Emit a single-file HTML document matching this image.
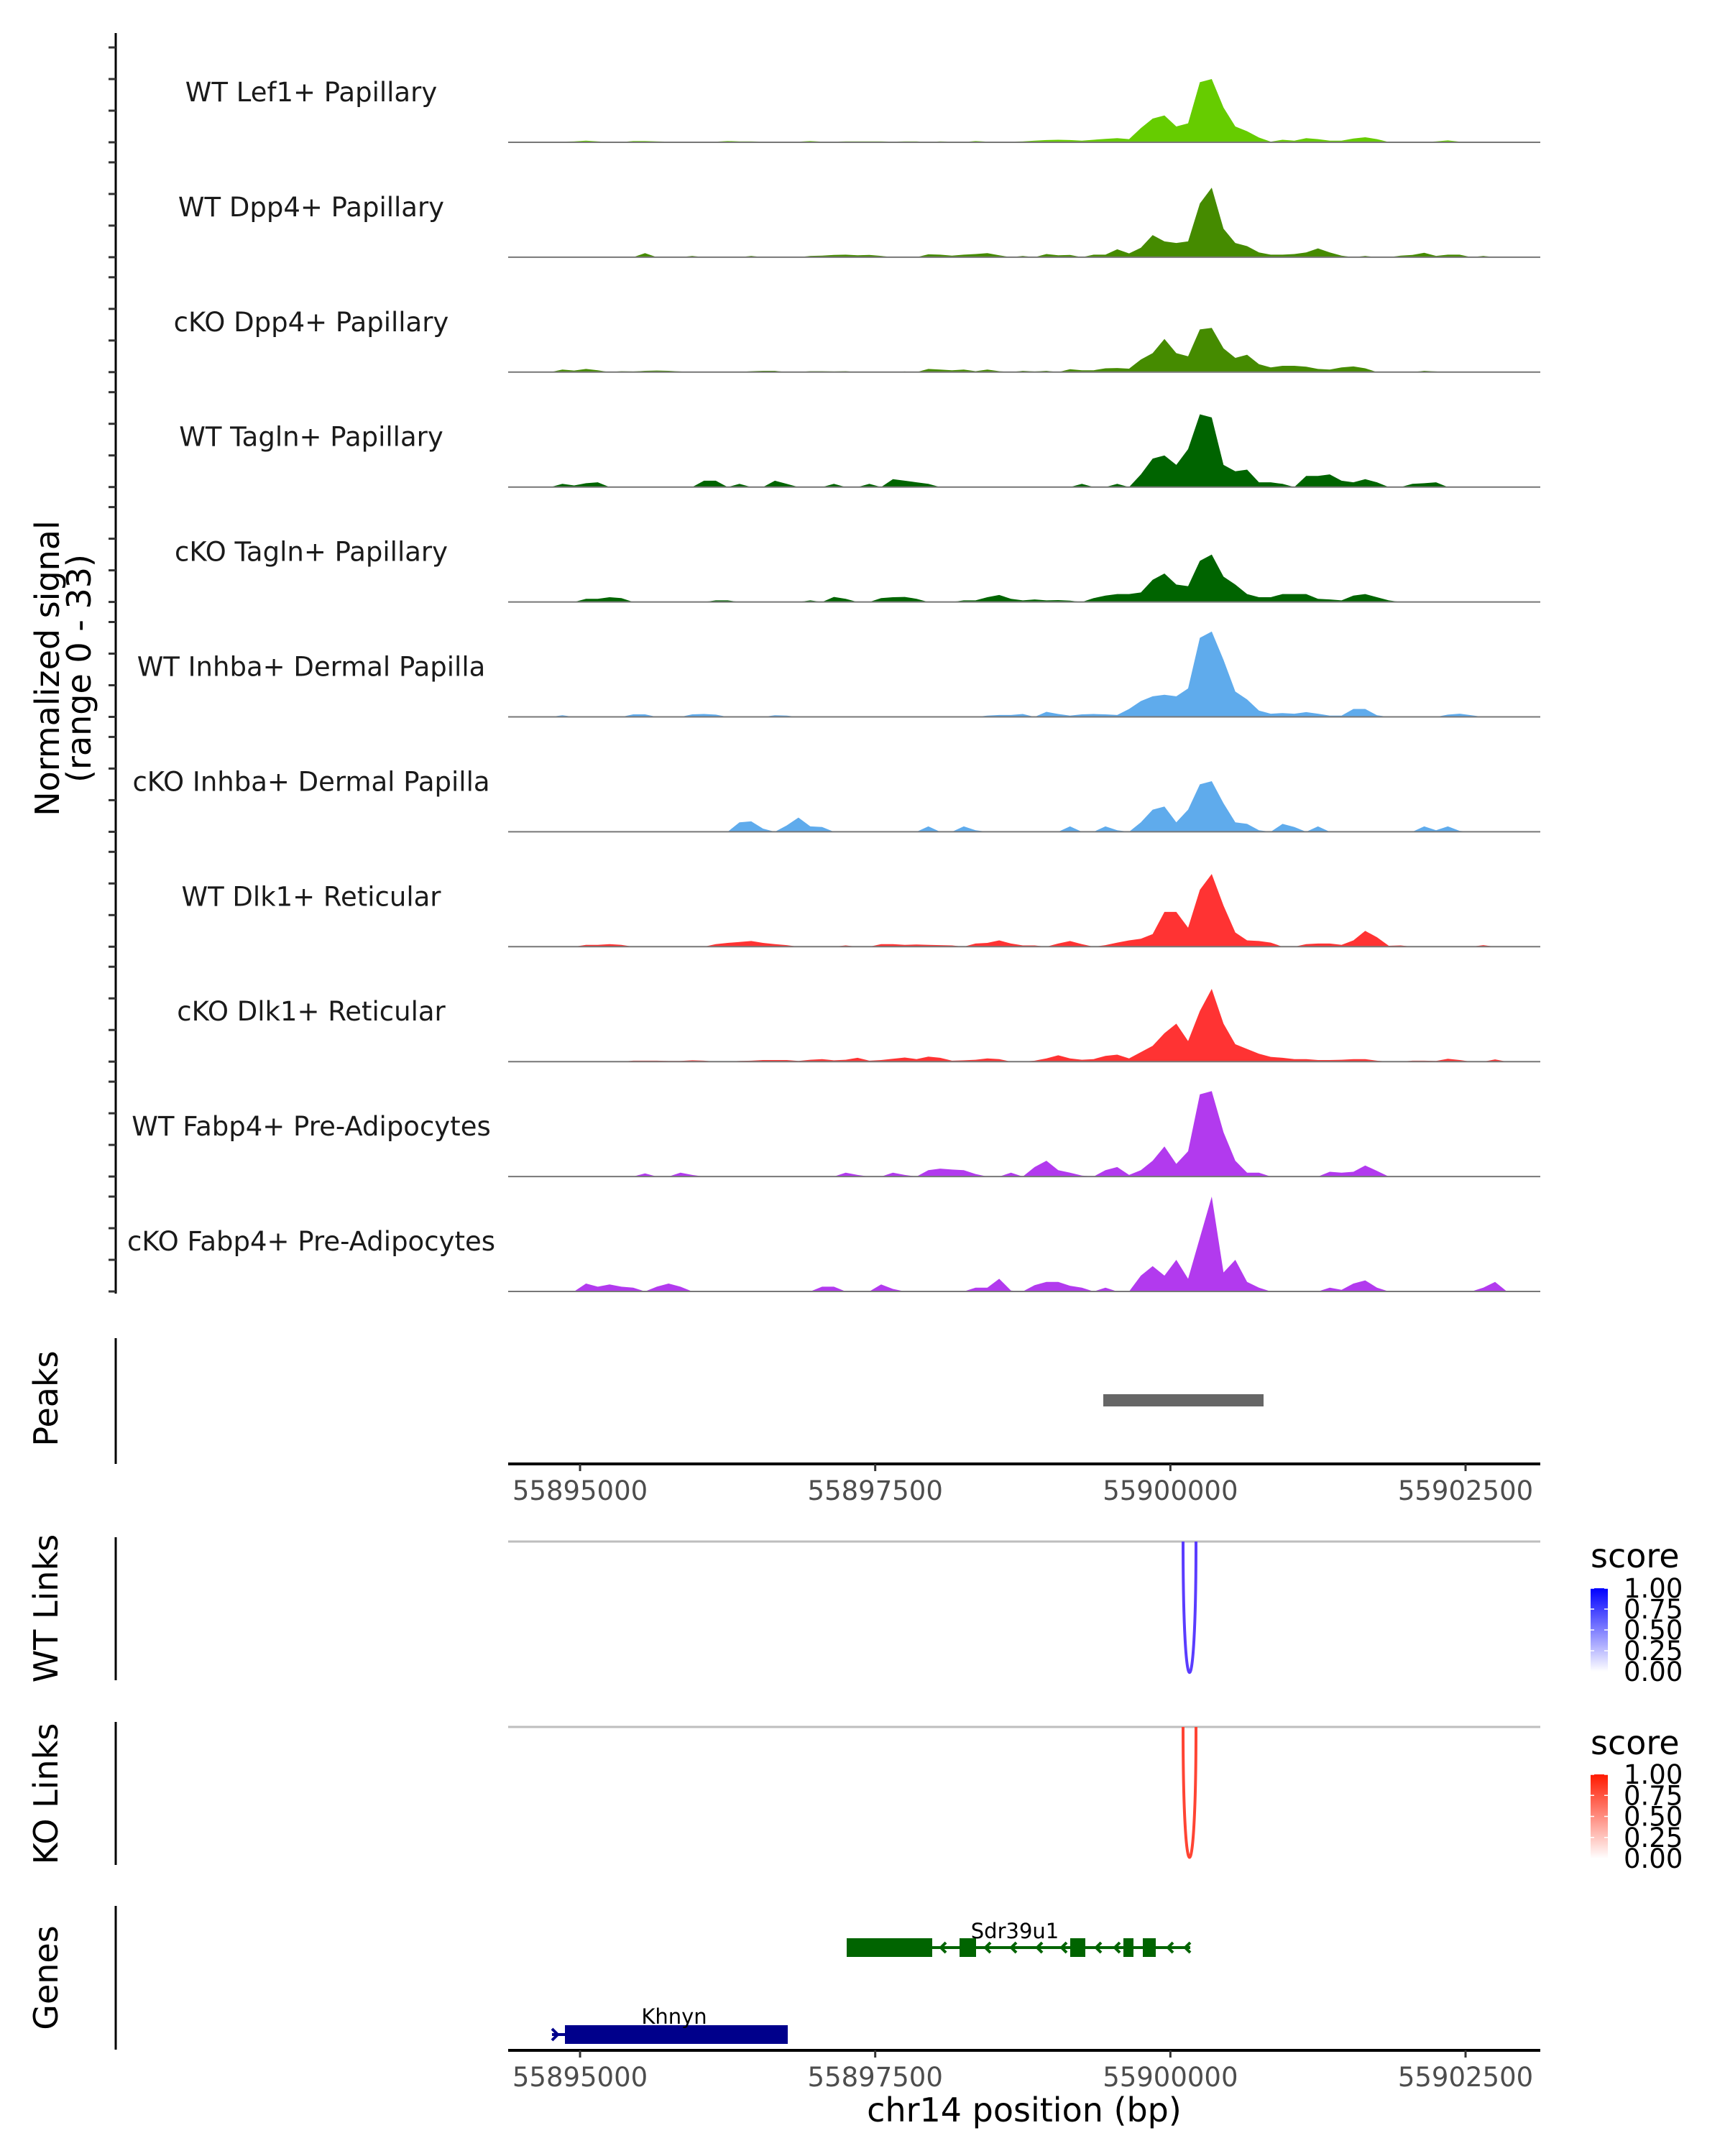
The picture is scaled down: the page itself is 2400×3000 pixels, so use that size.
<!DOCTYPE html>
<html>
<head>
<meta charset="utf-8">
<style>
  html,body{margin:0;padding:0;background:#fff;}
  svg{display:block;font-family:"DejaVu Sans","Liberation Sans",sans-serif;}
</style>
</head>
<body>
<svg id="chart" width="2400" height="3000" viewBox="0 0 2400 3000" xmlns="http://www.w3.org/2000/svg">
  <rect width="2400" height="3000" fill="#fff"/>
  <g id="tracks"></g>
  <g id="yaxis">
    <line x1="161" y1="46" x2="161" y2="1800" stroke="#000" stroke-width="3"/>
  </g>
  <text transform="translate(82,930) rotate(-90)" text-anchor="middle" font-size="46" fill="#000">Normalized signal</text>
  <text transform="translate(126,930) rotate(-90)" text-anchor="middle" font-size="46" fill="#000">(range 0 - 33)</text>

  <!-- Peaks panel -->
  <g>
    <line x1="161" y1="1862" x2="161" y2="2037" stroke="#000" stroke-width="3"/>
    <text transform="translate(80,1946) rotate(-90)" text-anchor="middle" font-size="46">Peaks</text>
    <rect x="1535" y="1940" width="223" height="17" fill="#666"/>
    <g id="axis1"></g>
  </g>

  <!-- WT links -->
  <g>
    <line x1="161" y1="2139" x2="161" y2="2338" stroke="#000" stroke-width="3"/>
    <text transform="translate(80,2238) rotate(-90)" text-anchor="middle" font-size="46">WT Links</text>
    <line x1="707" y1="2145" x2="2143" y2="2145" stroke="#bebebe" stroke-width="3"/>
    <path d="M1646 2145 C1646 2388 1664 2388 1664 2145" fill="none" stroke="#5a3cff" stroke-width="4"/>
    <text x="2213" y="2181" font-size="46">score</text>
    <defs>
      <linearGradient id="gBlue" x1="0" y1="0" x2="0" y2="1"><stop offset="0" stop-color="#0000ff"/><stop offset="1" stop-color="#ffffff"/></linearGradient>
      <linearGradient id="gRed" x1="0" y1="0" x2="0" y2="1"><stop offset="0" stop-color="#ff1a00"/><stop offset="1" stop-color="#ffffff"/></linearGradient>
    </defs>
    <rect x="2213" y="2210" width="24" height="116" fill="url(#gBlue)"/>
    <g id="legWT"></g>
  </g>

  <!-- KO links -->
  <g>
    <line x1="161" y1="2396" x2="161" y2="2595" stroke="#000" stroke-width="3"/>
    <text transform="translate(80,2496) rotate(-90)" text-anchor="middle" font-size="46">KO Links</text>
    <line x1="707" y1="2403" x2="2143" y2="2403" stroke="#bebebe" stroke-width="3"/>
    <path d="M1646 2403 C1646 2645 1664 2645 1664 2403" fill="none" stroke="#ff4433" stroke-width="4"/>
    <text x="2213" y="2441" font-size="46">score</text>
    <rect x="2213" y="2469" width="24" height="117" fill="url(#gRed)"/>
    <g id="legKO"></g>
  </g>

  <!-- Genes -->
  <g>
    <line x1="161" y1="2652" x2="161" y2="2852" stroke="#000" stroke-width="3"/>
    <text transform="translate(80,2752) rotate(-90)" text-anchor="middle" font-size="46">Genes</text>
    <g fill="#006400" stroke="#006400">
      <line x1="1178" y1="2710" x2="1656" y2="2710" stroke-width="4"/>
      <rect x="1178" y="2697" width="119" height="26" stroke="none"/>
      <rect x="1335" y="2697" width="23" height="26" stroke="none"/>
      <rect x="1489" y="2697" width="21" height="26" stroke="none"/>
      <rect x="1563" y="2697" width="14" height="26" stroke="none"/>
      <rect x="1590" y="2697" width="18" height="26" stroke="none"/>
      <g id="chev" fill="none" stroke-width="4"></g>
      <text x="1412" y="2697" font-size="29" text-anchor="middle" fill="#000" stroke="none">Sdr39u1</text>
    </g>
    <g fill="#00008b" stroke="#00008b">
      <line x1="768" y1="2831" x2="1096" y2="2831" stroke-width="4"/>
      <rect x="786" y="2818" width="310" height="26" stroke="none"/>
      <path d="M768 2823 L776 2831 L768 2839" fill="none" stroke-width="4"/>
      <text x="938" y="2816" font-size="29" text-anchor="middle" fill="#000" stroke="none">Khnyn</text>
    </g>
    <g id="axis2"></g>
    <text x="1425" y="2952" font-size="46" text-anchor="middle">chr14 position (bp)</text>
  </g>
</svg>
<script>
const binStart = 55894500;
const binSize = 100;
const xTicks = [55895000, 55897500, 55900000, 55902500];
const legendTicks = ["1.00","0.75","0.50","0.25","0.00"];
const trackNames = ["WT Lef1+ Papillary","WT Dpp4+ Papillary","cKO Dpp4+ Papillary","WT Tagln+ Papillary","cKO Tagln+ Papillary","WT Inhba+ Dermal Papilla","cKO Inhba+ Dermal Papilla","WT Dlk1+ Reticular","cKO Dlk1+ Reticular","WT Fabp4+ Pre-Adipocytes","cKO Fabp4+ Pre-Adipocytes"];
const trackColors = ["#66cc00","#458b00","#458b00","#006400","#006400","#5fabec","#5fabec","#ff3333","#ff3333","#b23aee","#b23aee"];
const sigLef1WT = [0,0,0,0.2,0.3,0.5,0.3,0.1,0.1,0.4, 0.4,0.3,0.2,0.1,0.1,0.2,0.2,0.4,0.3,0.3, 0.2,0.1,0.1,0.2,0.4,0.2,0.2,0.3,0.3,0.3, 0.3,0.2,0.3,0.3,0.1,0.3,0.2,0.1,0.4,0.2, 0.1,0.2,0.3,0.5,0.7,0.8,0.7,0.5,0.8,1.1, 1.3,1.0,4.5,7.5,8.5,5,6,19,20,11, 5,3.5,1.5,0.2,0.8,0.5,1.3,1.0,0.5,0.5, 1.2,1.6,1.0,0.1,0.1,0.1,0.1,0.3,0.6,0.2, 0,0,0,0];
const sigDpp4WT = [0,0,0,0,0,0,0,0,0,0, 1.3,0,0,0,0.4,0,0,0,0,0.4, 0,0,0,0,0.4,0.5,0.7,0.8,0.6,0.7, 0.4,0,0,0,0.9,0.8,0.5,0.8,1.0,1.3, 0.6,0,0.4,0,1.0,0.6,0.7,0,0.8,0.8, 2.5,1.2,3,7,5,4.5,5,17,22,9, 4.5,3.5,1.5,0.8,0.8,1.0,1.5,2.8,1.5,0.5, 0,0.4,0,0,0.5,0.7,1.4,0.4,0.8,0.8, 0,0.4,0,0];
const sigDpp4KO = [0,0,0,0.8,0.5,1.0,0.6,0,0.3,0.2, 0.4,0.5,0.4,0.2,0,0,0,0,0,0.3, 0.4,0.4,0,0,0.3,0.3,0.2,0.3,0,0, 0,0,0.2,0,1.0,0.8,0.6,0.8,0.3,0.8, 0.3,0,0.4,0.2,0.4,0,0.9,0.6,0.6,1.2, 1.3,1.1,4,6,10.5,6,5,13.5,14,7.5, 4.5,5.5,2.5,1.5,2,2,1.7,1.0,0.8,1.5, 1.8,1.2,0,0,0,0,0.4,0.2,0,0, 0,0,0,0];
const sigTaglnWT = [0,0,0,1,0.5,1.2,1.5,0,0,0, 0,0,0,0,0,2,2,0,1,0, 0,2,1,0,0,0,1,0,0,1, 0,2.5,2,1.5,1,0,0,0,0,0, 0,0,0,0,0,0,0,1,0,0, 1,0,4,9,10,7,12,23,22,7, 5,5.5,1.5,1.5,1,0,3.5,3.5,4,2, 1.5,2.5,1.5,0,0,1,1.2,1.5,0,0, 0,0,0,0];
const sigTaglnKO = [0,0,0,0,0,1.0,1.0,1.5,1.2,0, 0,0,0,0,0,0,0.5,0.5,0,0, 0,0,0,0,0.5,0,1.6,1.0,0,0, 1.2,1.5,1.6,1.0,0,0,0,0.5,0.5,1.5, 2.2,1,0.5,0.8,0.5,0.6,0.4,0,1.2,2, 2.5,2.5,3,7,9,5.5,5,13,15,8, 5.5,2.5,1.5,1.5,2.5,2.5,2.5,1.0,0.8,0.5, 2,2.5,1.5,0.5,0,0,0,0,0,0, 0,0,0,0];
const sigInhbaWT = [0,0,0,0.5,0,0,0,0,0,0.8, 0.8,0,0,0,0.8,0.9,0.7,0,0,0, 0,0.5,0.4,0,0,0,0,0,0,0, 0,0,0,0,0,0,0,0,0,0.4, 0.6,0.6,0.9,0,1.6,0.9,0.4,0.8,0.9,0.8, 0.6,2.5,5,6.5,7,6.5,9,25,27,18, 8,5.5,2,1,1.2,1.0,1.5,1.0,0.4,0.4, 2.5,2.5,0.5,0,0,0,0,0,0.7,1.0, 0.5,0,0,0];
const sigInhbaKO = [0,0,0,0,0,0,0,0,0,0, 0,0,0,0,0,0,0,0,3,3.3, 1,0,2,4.5,1.7,1.5,0,0,0,0, 0,0,0,0,1.7,0,0,1.7,0.5,0, 0,0,0,0,0,0,1.7,0,0,1.7, 0.5,0,3,7,8,3,7,15,16,9, 3,2.5,0.5,0,2.5,1.5,0,1.7,0,0, 0,0,0,0,0,0,1.7,0.5,1.7,0.3, 0,0,0,0];
const sigDlk1WT = [0,0,0,0,0,0.6,0.6,0.8,0.6,0, 0,0,0,0,0,0,0.8,1.2,1.5,1.8, 1.2,0.8,0.5,0,0,0,0,0.4,0,0, 0.8,0.8,0.6,0.7,0.6,0.5,0.4,0,1.0,1.2, 2,1.0,0.4,0.4,0,1.0,1.8,0.8,0,0.5, 1.3,2,2.5,4,11,11,6,18,23,13, 4.5,2,1.8,1.3,0,0,0.8,1.0,1.0,0.6, 2,5,3,0.3,0.4,0,0,0,0,0, 0,0.5,0,0];
const sigDlk1KO = [0,0,0,0,0,0,0,0,0,0.3, 0.3,0.3,0.2,0.2,0.4,0.3,0,0,0.2,0.3, 0.5,0.5,0.5,0.2,0.6,0.8,0.4,0.6,1.2,0.3, 0.5,0.9,1.3,0.8,1.6,1.2,0.3,0.4,0.6,1.0, 0.8,0,0,0.3,1.0,2.0,1.0,0.6,0.8,1.8, 2.2,1.0,3,5,9,12,6.5,16,23,12, 5.5,4,2.5,1.5,1.2,0.8,0.8,0.5,0.5,0.6, 0.8,0.8,0.3,0,0,0.3,0.3,0.2,0.9,0.5, 0,0,0.7,0];
const sigFabp4WT = [0,0,0,0,0,0,0,0,0,0, 1.0,0,0,1.2,0.5,0,0,0,0,0, 0,0,0,0,0,0,0,1.2,0.5,0, 0,1.2,0.5,0,2,2.5,2.2,2,0.8,0, 0,1.2,0,3,5,2,1.2,0.3,0,2, 3,0.5,2,5,9.5,4,8,26,27,14, 5,1.2,1.2,0,0,0,0,0,1.5,1.2, 1.5,3.5,1.8,0,0,0,0,0,0,0, 0,0,0,0];
const sigFabp4KO = [0,0,0,0,0,2.5,1.5,2.2,1.5,1.2, 0,1.5,2.5,1.5,0,0,0,0,0,0, 0,0,0,0,0,1.5,1.5,0,0,0, 2.2,0.8,0,0,0,0,0,0,1.2,1.2, 4,0.3,0,2,3,3,1.8,1.2,0,1.2, 0,0,5,8,5,10,4,17,30,6, 10,3,1.2,0,0,0,0,0,1.2,0.5, 2.5,3.5,1.2,0,0,0,0,0,0,0, 0,1.2,3,0];
const signals = [sigLef1WT,sigDpp4WT,sigDpp4KO,sigTaglnWT,sigTaglnKO,sigInhbaWT,sigInhbaKO,sigDlk1WT,sigDlk1KO,sigFabp4WT,sigFabp4KO];

const NS = "http://www.w3.org/2000/svg";
const X0 = 707, X1 = 2143, BP0 = 55894391, BP1 = 55903133;
function xScale(bp){ return X0 + (bp - BP0) / (BP1 - BP0) * (X1 - X0); }
const PX_PER_UNIT = 4.4;
function yScale(v, base){ return base - v * PX_PER_UNIT; }
function mk(tag, attrs, parent){ const e = document.createElementNS(NS, tag); for (const k in attrs) e.setAttribute(k, attrs[k]); parent.appendChild(e); return e; }

const tracksG = document.getElementById('tracks');
const yaxisG = document.getElementById('yaxis');
for (let t = 0; t < signals.length; t++) {
  const base = 198 + 159.9 * t;
  const g = mk('g', {}, tracksG);
  
  
  const vals = signals[t];
  let d = 'M' + xScale(binStart).toFixed(1) + ' ' + base.toFixed(1);
  for (let i = 0; i < vals.length; i++) {
    const xc = xScale(binStart + (i + 0.5) * binSize);
    d += ' L' + xc.toFixed(1) + ' ' + yScale(vals[i], base).toFixed(1);
  }
  d += ' L' + xScale(binStart + vals.length * binSize).toFixed(1) + ' ' + base.toFixed(1) + ' Z';
  const area = mk('path', {d: d, fill: trackColors[t]}, g);
  
  
  const bl = mk('line', {x1: X0, x2: X1, y1: base, y2: base, stroke: '#777', 'stroke-width': 2}, g);
  
  
  const lab = mk('text', {x: 433, y: base - 57, 'font-size': 37, 'text-anchor': 'middle', fill: '#1a1a1a'}, g);
  lab.textContent = trackNames[t];
  
  
  for (let k = 0; k < 4; k++) {
    const ty = yScale(k * 10, base);
    const tk = mk('line', {x1: 151, x2: 161, y1: ty, y2: ty, stroke: '#333', 'stroke-width': 3}, yaxisG);
    
    
  }
}

function drawAxis(id, y) {
  const g = document.getElementById(id);
  mk('line', {x1: X0, x2: X1, y1: y, y2: y, stroke: '#000', 'stroke-width': 4}, g);
  for (const v of xTicks) {
    const x = xScale(v);
    const tk = mk('line', {x1: x, x2: x, y1: y, y2: y + 10, stroke: '#333', 'stroke-width': 3}, g);
    
    
    const tl = mk('text', {x: x, y: y + 50, 'font-size': 37, 'text-anchor': 'middle', fill: '#4d4d4d'}, g);
    tl.textContent = v;
    
    
  }
}
drawAxis('axis1', 2037);
drawAxis('axis2', 2853);

function drawLegend(id, top, h) {
  const g = document.getElementById(id);
  for (let i = 0; i < legendTicks.length; i++) {
    const y = top + i * h / (legendTicks.length - 1);
    mk('line', {x1: 2213, x2: 2218, y1: y, y2: y, stroke: '#fff', 'stroke-width': 1.5}, g);
    mk('line', {x1: 2232, x2: 2237, y1: y, y2: y, stroke: '#fff', 'stroke-width': 1.5}, g);
    const tl = mk('text', {x: 2259, y: y + 13, 'font-size': 37, fill: '#000'}, g);
    tl.textContent = legendTicks[i];
    
    
  }
}
drawLegend('legWT', 2210, 116);
drawLegend('legKO', 2469, 117);

const chev = document.getElementById('chev');
const chevX = [1310, 1372, 1408, 1444, 1478, 1526, 1552, 1626, 1650];
for (const x of chevX) {
  mk('path', {d: 'M' + (x + 6) + ' 2703 L' + (x - 1) + ' 2710 L' + (x + 6) + ' 2717'}, chev);
}
</script>
</body>
</html>
